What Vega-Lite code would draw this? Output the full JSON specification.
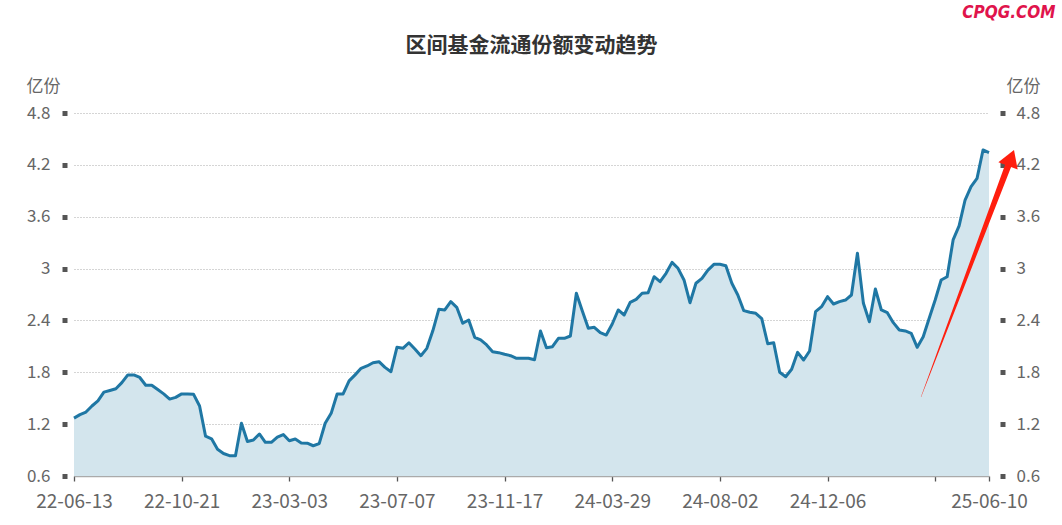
{
  "$schema": "https://vega.github.io/schema/vega-lite/v6.json",
  "width": 915,
  "height": 363,
  "autosize": {"type": "none"},
  "padding": {"left": 74, "top": 113, "right": 73, "bottom": 49},
  "background": "white",
  "config": {"view": {"stroke": null}, "font": "Noto Sans CJK SC"},
  "title": {"text": "区间基金流通份额变动趋势", "fontSize": 21, "fontWeight": "bold", "color": "#333333", "anchor": "middle", "frame": "group", "offset": 0, "dy": 53, "font": "Noto Sans CJK SC"},
  "datasets": {
    "main": [
      {"d":"22-06-13","v":1.27},{"d":"22-06-17","v":1.31},{"d":"22-06-24","v":1.34},{"d":"22-07-01","v":1.41},{"d":"22-07-08","v":1.47},
      {"d":"22-07-15","v":1.57},{"d":"22-07-22","v":1.59},{"d":"22-07-29","v":1.61},{"d":"22-08-05","v":1.68},{"d":"22-08-12","v":1.77},
      {"d":"22-08-19","v":1.77},{"d":"22-08-26","v":1.74},{"d":"22-09-02","v":1.65},{"d":"22-09-09","v":1.65},{"d":"22-09-16","v":1.6},
      {"d":"22-09-23","v":1.55},{"d":"22-09-30","v":1.49},{"d":"22-10-14","v":1.51},{"d":"22-10-21","v":1.55},{"d":"22-10-28","v":1.55},
      {"d":"22-11-04","v":1.545},{"d":"22-11-11","v":1.41},{"d":"22-11-18","v":1.06},{"d":"22-11-25","v":1.03},{"d":"22-12-02","v":0.91},
      {"d":"22-12-09","v":0.86},{"d":"22-12-16","v":0.835},{"d":"22-12-23","v":0.835},{"d":"22-12-30","v":1.21},{"d":"23-01-06","v":1.0},
      {"d":"23-01-13","v":1.016},{"d":"23-01-20","v":1.086},{"d":"23-02-03","v":0.99},{"d":"23-02-10","v":0.99},{"d":"23-02-17","v":1.05},
      {"d":"23-02-24","v":1.08},{"d":"23-03-03","v":1.008},{"d":"23-03-10","v":1.028},{"d":"23-03-17","v":0.982},{"d":"23-03-24","v":0.98},
      {"d":"23-03-31","v":0.95},{"d":"23-04-07","v":0.974},{"d":"23-04-14","v":1.21},{"d":"23-04-21","v":1.325},{"d":"23-04-28","v":1.549},
      {"d":"23-05-05","v":1.549},{"d":"23-05-12","v":1.7},{"d":"23-05-19","v":1.77},{"d":"23-05-26","v":1.846},{"d":"23-06-02","v":1.873},
      {"d":"23-06-09","v":1.911},{"d":"23-06-16","v":1.923},{"d":"23-06-21","v":1.857},{"d":"23-06-30","v":1.807},{"d":"23-07-07","v":2.089},
      {"d":"23-07-14","v":2.077},{"d":"23-07-21","v":2.142},{"d":"23-07-28","v":2.069},{"d":"23-08-04","v":1.992},{"d":"23-08-11","v":2.077},
      {"d":"23-08-18","v":2.28},{"d":"23-08-25","v":2.529},{"d":"23-09-01","v":2.521},{"d":"23-09-08","v":2.617},{"d":"23-09-15","v":2.552},
      {"d":"23-09-22","v":2.367},{"d":"23-09-28","v":2.405},{"d":"23-10-13","v":2.205},{"d":"23-10-20","v":2.174},{"d":"23-10-27","v":2.116},
      {"d":"23-11-03","v":2.038},{"d":"23-11-10","v":2.027},{"d":"23-11-17","v":2.008},{"d":"23-11-24","v":1.992},{"d":"23-12-01","v":1.962},
      {"d":"23-12-08","v":1.962},{"d":"23-12-15","v":1.962},{"d":"23-12-22","v":1.945},{"d":"23-12-29","v":2.278},{"d":"24-01-05","v":2.085},
      {"d":"24-01-12","v":2.096},{"d":"24-01-19","v":2.193},{"d":"24-01-26","v":2.193},{"d":"24-02-02","v":2.22},{"d":"24-02-08","v":2.714},
      {"d":"24-02-23","v":2.509},{"d":"24-03-01","v":2.309},{"d":"24-03-08","v":2.32},{"d":"24-03-15","v":2.258},{"d":"24-03-22","v":2.231},
      {"d":"24-03-29","v":2.359},{"d":"24-04-03","v":2.521},{"d":"24-04-12","v":2.463},{"d":"24-04-19","v":2.61},{"d":"24-04-26","v":2.644},
      {"d":"24-04-30","v":2.714},{"d":"24-05-10","v":2.721},{"d":"24-05-17","v":2.906},{"d":"24-05-24","v":2.848},{"d":"24-05-31","v":2.945},
      {"d":"24-06-07","v":3.072},{"d":"24-06-14","v":3.003},{"d":"24-06-21","v":2.868},{"d":"24-06-28","v":2.605},{"d":"24-07-05","v":2.83},
      {"d":"24-07-12","v":2.887},{"d":"24-07-19","v":2.983},{"d":"24-07-26","v":3.049},{"d":"24-08-02","v":3.049},{"d":"24-08-09","v":3.033},
      {"d":"24-08-16","v":2.83},{"d":"24-08-23","v":2.694},{"d":"24-08-30","v":2.513},{"d":"24-09-06","v":2.494},{"d":"24-09-13","v":2.482},
      {"d":"24-09-20","v":2.42},{"d":"24-09-27","v":2.13},{"d":"24-09-30","v":2.142},{"d":"24-10-11","v":1.8},{"d":"24-10-18","v":1.749},
      {"d":"24-10-25","v":1.835},{"d":"24-11-01","v":2.031},{"d":"24-11-08","v":1.942},{"d":"24-11-15","v":2.046},{"d":"24-11-22","v":2.501},
      {"d":"24-11-29","v":2.559},{"d":"24-12-06","v":2.675},{"d":"24-12-13","v":2.59},{"d":"24-12-20","v":2.617},{"d":"24-12-27","v":2.636},
      {"d":"25-01-03","v":2.694},{"d":"25-01-10","v":3.177},{"d":"25-01-17","v":2.598},{"d":"25-01-24","v":2.385},{"d":"25-01-27","v":2.764},
      {"d":"25-02-07","v":2.521},{"d":"25-02-14","v":2.49},{"d":"25-02-21","v":2.374},{"d":"25-02-28","v":2.289},{"d":"25-03-07","v":2.278},
      {"d":"25-03-14","v":2.251},{"d":"25-03-21","v":2.089},{"d":"25-03-28","v":2.212},{"d":"25-04-03","v":2.425},{"d":"25-04-11","v":2.636},
      {"d":"25-04-18","v":2.868},{"d":"25-04-25","v":2.906},{"d":"25-04-30","v":3.331},{"d":"25-05-09","v":3.493},{"d":"25-05-16","v":3.793},
      {"d":"25-05-23","v":3.947},{"d":"25-05-30","v":4.044},{"d":"25-06-06","v":4.372},{"d":"25-06-10","v":4.341}
    ],
    "arrow": [
      {"ax": 0.9257, "ay": 1.514, "w": 0.3},
      {"ax": 1.022, "ay": 4.22, "w": 6.5}
    ],
    "head": [
      {"ax": 1.0273, "ay": 4.372}
    ]
  },
  "layer": [
    {
      "data": {"name": "main"},
      "mark": {"type": "area", "color": "#d3e5ed", "opacity": 1},
      "encoding": {
        "x": {
          "field": "d", "type": "ordinal", "sort": null,
          "scale": {"type": "point", "padding": 0},
          "axis": {
            "values": ["22-06-13","22-10-21","23-03-03","23-07-07","23-11-17","24-03-29","24-08-02","24-12-06","25-04-11","25-06-10"],
            "labelExpr": "datum.value == '25-04-11' ? '' : datum.value",
            "labelAngle": 0, "labelFontSize": 19, "labelColor": "#666666", "labelFont": "Noto Sans CJK SC",
            "labelPadding": 11, "labelFlush": false, "labelOverlap": false,
            "tickColor": "#555555", "tickSize": 5, "tickWidth": 1.3,
            "domainColor": "#aaaaaa", "domainWidth": 1.3, "grid": false,
            "title": "CPQG.COM", "titleX": 981, "titleY": -464, "titleAlign": "right", "titleBaseline": "middle",
            "titleColor": "#e0144c", "titleFontSize": 17, "titleFontStyle": "italic", "titleFontWeight": "bold",
            "titleFont": "Liberation Sans Narrow, DejaVu Sans Condensed, sans-serif"
          }
        },
        "y": {
          "field": "v", "type": "quantitative",
          "scale": {"domain": [0.6, 4.8], "zero": false, "nice": false},
          "axis": {
            "orient": "left", "values": [0.6,1.2,1.8,2.4,3,3.6,4.2,4.8], "format": "~g",
            "offset": 7, "domain": false, "tickSize": 5, "tickWidth": 5, "tickColor": "#555555",
            "labelPadding": 12, "labelFontSize": 17, "labelColor": "#666666", "labelFont": "Noto Sans CJK SC",
            "grid": true, "gridColor": "#aaaaaa", "gridDash": [1, 2], "gridWidth": 1,
            "title": "亿份", "titleAngle": 0, "titleX": -24, "titleY": -27, "titleAlign": "center", "titleBaseline": "middle",
            "titleFontSize": 17, "titleFontWeight": "normal", "titleColor": "#666666", "titleFont": "Noto Sans CJK SC"
          }
        },
        "y2": {"datum": 0.6}
      }
    },
    {
      "data": {"name": "main"},
      "mark": {"type": "line", "color": "#1f77a4", "strokeWidth": 3, "strokeJoin": "round"},
      "encoding": {
        "x": {"field": "d", "type": "ordinal", "sort": null, "scale": {"type": "point", "padding": 0}, "axis": null},
        "y": {
          "field": "v", "type": "quantitative",
          "scale": {"domain": [0.6, 4.8], "zero": false, "nice": false},
          "axis": {
            "orient": "right", "values": [0.6,1.2,1.8,2.4,3,3.6,4.2,4.8], "format": "~g",
            "offset": 11, "domain": false, "tickSize": 5, "tickWidth": 5, "tickColor": "#555555",
            "labelPadding": 11, "labelFontSize": 17, "labelColor": "#666666", "labelFont": "Noto Sans CJK SC",
            "grid": false,
            "title": "亿份", "titleAngle": 0, "titleX": 23, "titleY": -27, "titleAlign": "center", "titleBaseline": "middle",
            "titleFontSize": 17, "titleFontWeight": "normal", "titleColor": "#666666", "titleFont": "Noto Sans CJK SC"
          }
        }
      }
    },
    {
      "data": {"name": "arrow"},
      "mark": {"type": "trail", "color": "#ff1e0e"},
      "encoding": {
        "x": {"field": "ax", "type": "quantitative", "scale": {"domain": [0, 1], "zero": false, "nice": false}, "axis": null},
        "y": {"field": "ay", "type": "quantitative", "scale": {"domain": [0.6, 4.8], "zero": false, "nice": false}, "axis": null},
        "size": {"field": "w", "type": "quantitative", "scale": null, "legend": null}
      }
    },
    {
      "data": {"name": "head"},
      "mark": {"type": "point", "shape": "M0,0L0.64,1.05L-0.64,1.05Z", "filled": true, "color": "#ff1e0e", "size": 1040, "angle": 20.6, "opacity": 1},
      "encoding": {
        "x": {"field": "ax", "type": "quantitative", "scale": {"domain": [0, 1], "zero": false, "nice": false}, "axis": null},
        "y": {"field": "ay", "type": "quantitative", "scale": {"domain": [0.6, 4.8], "zero": false, "nice": false}, "axis": null}
      }
    }
  ],
  "resolve": {
    "scale": {"x": "independent", "y": "independent"},
    "axis": {"x": "independent", "y": "independent"}
  }
}
